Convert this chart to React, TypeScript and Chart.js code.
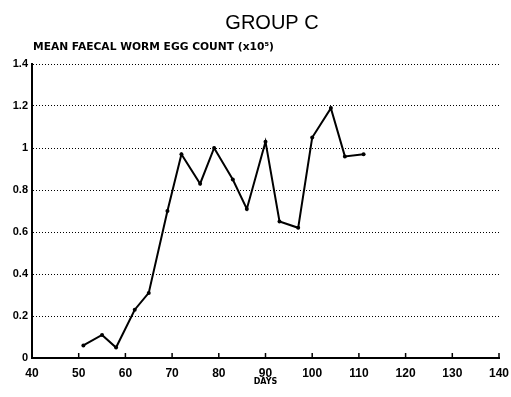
import React, { useEffect, useRef } from "react";
import { Chart, registerables } from "chart.js";

Chart.register(...registerables);

const days = [51, 55, 58, 62, 65, 69, 72, 76, 79, 83, 86, 90, 93, 97, 100, 104, 107, 111];
const eggCounts = [0.06, 0.11, 0.05, 0.23, 0.31, 0.7, 0.97, 0.83, 1.0, 0.85, 0.71, 1.03, 0.65, 0.62, 1.05, 1.19, 0.96, 0.97];
const titleText = "GROUP C";
const yLabelText = "MEAN FAECAL WORM EGG COUNT (x10\u2075)";
const xLabelText = "DAYS";

const FONT = "'Liberation Sans', Arial, sans-serif";

const decorPlugin = {
  id: "decor",
  afterDraw(chart: any) {
    const { ctx, chartArea, scales } = chart;
    ctx.save();
    ctx.fillStyle = "#000";
    ctx.font = `20px ${FONT}`;
    ctx.textAlign = "center";
    ctx.textBaseline = "middle";
    ctx.fillText(titleText, 272, 23);
    ctx.font = `bold 10.7px 'DejaVu Sans', ${FONT}`;
    ctx.textAlign = "left";
    ctx.fillText(yLabelText, chartArea.left + 1, 47);
    ctx.strokeStyle = "#000";
    ctx.lineWidth = 1.5;
    const xs = scales.x;
    for (const t of xs.ticks) {
      const px = xs.getPixelForValue(t.value);
      ctx.beginPath();
      ctx.moveTo(px, chartArea.bottom);
      ctx.lineTo(px, chartArea.bottom - 5);
      ctx.stroke();
    }
    ctx.restore();
  },
};

export default function App() {
  const ref = useRef<HTMLCanvasElement | null>(null);
  useEffect(() => {
    if (!ref.current) return;
    const chart = new Chart(ref.current, {
      type: "line",
      data: {
        datasets: [
          {
            data: days.map((d, i) => ({ x: d, y: eggCounts[i] })),
            borderColor: "#000",
            backgroundColor: "#000",
            borderWidth: 2,
            pointRadius: 2,
            pointBorderWidth: 0,
            tension: 0,
          },
        ],
      },
      options: {
        animation: false,
        responsive: false,
        layout: { padding: { left: 0, right: 12, top: 64, bottom: 10 } },
        plugins: { legend: { display: false }, tooltip: { enabled: false } },
        scales: {
          x: {
            type: "linear",
            min: 40,
            max: 140,
            ticks: {
              stepSize: 10,
              color: "#000",
              font: { family: FONT, size: 12, weight: "bold" },
              padding: 8,
              maxRotation: 0,
            },
            grid: { display: false, drawTicks: false },
            border: { display: true, color: "#000", width: 2 },
            title: {
              display: true,
              text: xLabelText,
              color: "#000",
              font: { family: "'DejaVu Sans', " + FONT, size: 8, weight: "bold" },
              padding: { top: 0, bottom: 0 },
            },
            afterFit: (s: any) => {
              s.height = 29;
              s.paddingLeft = 0;
              s.paddingRight = 0;
            },
          },
          y: {
            min: 0,
            max: 1.4,
            ticks: {
              stepSize: 0.2,
              color: "#000",
              font: { family: FONT, size: 11, weight: "bold" },
              padding: 4,
              callback: (v: any) => String(Number(Number(v).toFixed(1))),
            },
            grid: {
              color: "#000",
              lineWidth: 1,
              drawTicks: false,
            },
            border: { display: true, color: "#000", width: 2, dash: [1, 2] },
            afterFit: (s: any) => {
              s.width = 32;
              s.paddingTop = 0;
              s.paddingBottom = 0;
            },
          },
        },
      },
      plugins: [decorPlugin],
    });
    return () => chart.destroy();
  }, []);
  return (
    <div style={{ position: "fixed", left: 0, top: 0, width: 511, height: 397, background: "#fff" }}>
      <canvas ref={ref} width={511} height={397} />
    </div>
  );
}
